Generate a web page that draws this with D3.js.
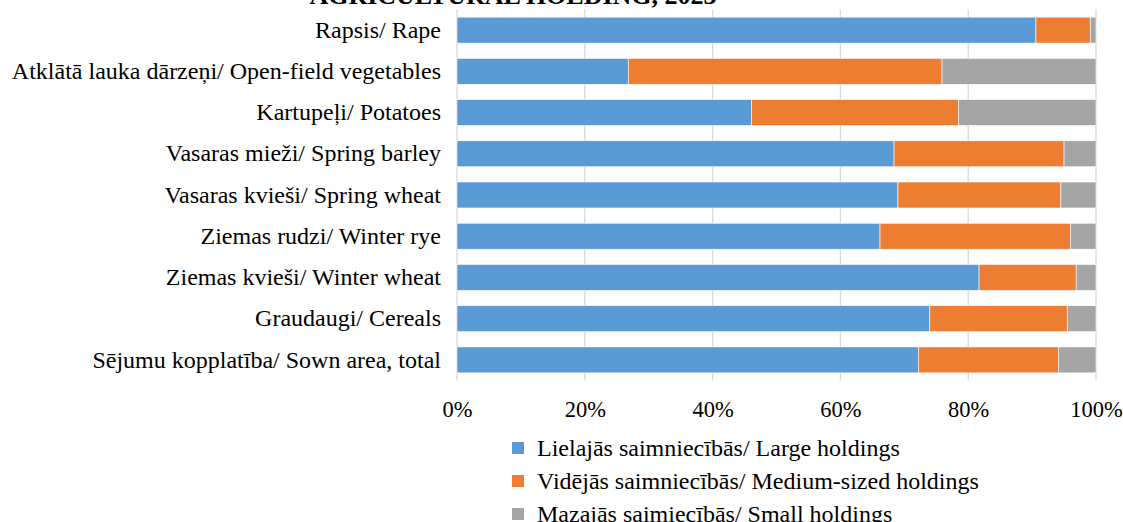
<!DOCTYPE html>
<html>
<head>
<meta charset="utf-8">
<script src="https://cdn.jsdelivr.net/npm/d3@7"></script>
<style>
  body { margin: 0; background: #fff; }
  svg { display: block; font-family: "Liberation Serif", "Times New Roman", serif; }
</style>
</head>
<body>
<div id="chart"></div>
<script>
const categories = [
  "Rapsis/ Rape",
  "Atklātā lauka dārzeņi/ Open-field vegetables",
  "Kartupeļi/ Potatoes",
  "Vasaras mieži/ Spring barley",
  "Vasaras kvieši/ Spring wheat",
  "Ziemas rudzi/ Winter rye",
  "Ziemas kvieši/ Winter wheat",
  "Graudaugi/ Cereals ",
  "Sējumu kopplatība/ Sown area, total"
];
const large = [90.6, 26.8, 46.1, 68.4, 69.0, 66.2, 81.7, 74.0, 72.2];
const medium = [8.5, 49.1, 32.4, 26.6, 25.5, 29.8, 15.2, 21.5, 21.9];
const small = [0.9, 24.1, 21.5, 5.0, 5.5, 4.0, 3.1, 4.5, 5.9];
const seriesNames = [
  "Lielajās saimniecībās/ Large holdings",
  "Vidējās saimniecībās/ Medium-sized holdings",
  "Mazajās saimiecībās/ Small holdings"
];
const colors = ["#5B9BD5", "#ED7D31", "#A5A5A5"];
const tickValues = [0, 20, 40, 60, 80, 100];
const titleLine = "AGRICULTURAL HOLDING, 2023";

const width = 1123, height = 522;
const margin = {top: 9.5, left: 457, right: 27, bottom: 141.5};

const svg = d3.select("#chart").append("svg")
  .attr("width", width)
  .attr("height", height);

const x = d3.scaleLinear()
  .domain([0, 100])
  .range([margin.left, width - margin.right]);

const y = d3.scaleBand()
  .domain(categories)
  .range([margin.top, height - margin.bottom])
  .paddingInner(0.37)
  .paddingOuter(0.185);

// title - only its last line shows at the top edge
svg.append("text")
  .attr("x", 513)
  .attr("y", 3.5)
  .attr("text-anchor", "middle")
  .attr("font-size", 26)
  .attr("font-weight", "bold")
  .attr("fill", "#000")
  .text(titleLine);

// gridlines
svg.append("g")
  .selectAll("line")
  .data(tickValues)
  .join("line")
  .attr("x1", d => x(d))
  .attr("x2", d => x(d))
  .attr("y1", margin.top)
  .attr("y2", height - margin.bottom)
  .attr("stroke", "#D9D9D9")
  .attr("stroke-width", 1.3);

// stacked bars
const rows = categories.map((c, i) => ({cat: c, large: large[i], medium: medium[i], small: small[i]}));
const stacked = d3.stack().keys(["large", "medium", "small"])(rows);

svg.append("g")
  .selectAll("g")
  .data(stacked)
  .join("g")
  .attr("fill", (d, i) => colors[i])
  .selectAll("rect")
  .data(d => d)
  .join("rect")
  .attr("x", d => x(d[0]))
  .attr("width", d => x(Math.min(d[1], 100)) - x(d[0]))
  .attr("y", d => y(d.data.cat))
  .attr("height", y.bandwidth())
  .attr("stroke", "#fff")
  .attr("stroke-width", 0.6);

// category axis
const yAxis = svg.append("g")
  .attr("transform", `translate(${margin.left},0)`)
  .call(d3.axisLeft(y).tickSize(0).tickPadding(16));
yAxis.select(".domain").remove();
yAxis.attr("font-family", null);
yAxis.selectAll("text")
  .attr("font-size", 24)
  .attr("fill", "#000");

// value axis
const xAxis = svg.append("g")
  .attr("transform", `translate(0,${height - margin.bottom})`)
  .call(d3.axisBottom(x).tickValues(tickValues).tickFormat(d => d + "%").tickSize(0).tickPadding(21));
xAxis.select(".domain").remove();
xAxis.attr("font-family", null);
xAxis.selectAll("text")
  .attr("font-size", 22.5)
  .attr("fill", "#000");

// legend
const legend = svg.append("g")
  .selectAll("g")
  .data(seriesNames)
  .join("g")
  .attr("transform", (d, i) => `translate(512,${448 + i * 33})`);

legend.append("rect")
  .attr("x", 0)
  .attr("y", -6)
  .attr("width", 12)
  .attr("height", 12)
  .attr("fill", (d, i) => colors[i]);

legend.append("text")
  .attr("x", 25)
  .attr("y", 0)
  .attr("dy", "0.35em")
  .attr("font-size", 24)
  .attr("fill", "#000")
  .text(d => d);
</script>
</body>
</html>
